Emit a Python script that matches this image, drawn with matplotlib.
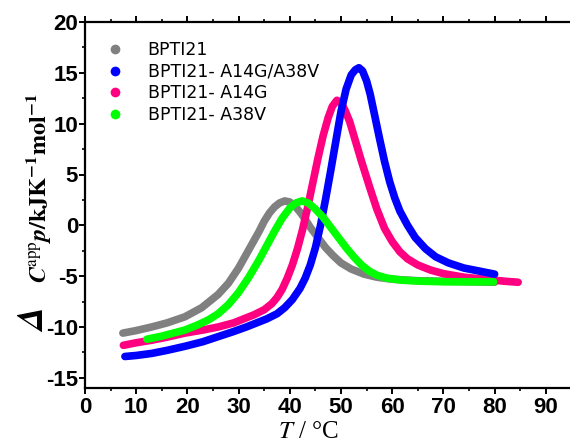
import numpy as np
import matplotlib
matplotlib.use('Agg')
import matplotlib.pyplot as plt
from matplotlib.lines import Line2D
from matplotlib.ticker import MultipleLocator

plt.rcParams['axes.unicode_minus'] = False
plt.rcParams['mathtext.fontset'] = 'stix'

# BPTI21
grey_T = [7.4, 10, 13, 16, 19.5, 22.8, 26, 28, 30, 32, 34, 35, 36, 37, 38, 39, 40, 41,
          42, 43, 44, 45.5, 47, 48.5, 50, 52, 54.5, 57, 60, 65, 70, 75, 80]
grey_C = [-10.6, -10.35, -10.0, -9.6, -9.0, -8.1, -6.8, -5.7, -4.2, -2.4, -0.6, 0.4, 1.2, 1.8, 2.2, 2.4, 2.3, 1.9,
          1.3, 0.6, -0.2, -1.2, -2.2, -3.0, -3.7, -4.3, -4.8, -5.1, -5.3, -5.45, -5.5, -5.55, -5.6]

# BPTI21-A14G/A38V
blue_T = [7.8, 10, 13, 16, 19.5, 23, 26, 29, 31.5, 33.5, 35.5, 37.5, 39, 40.5, 42, 43, 44, 45,
          46, 47, 48, 49, 50, 51, 52, 52.8, 53.5, 54.2, 55, 55.7, 56.5, 57.5, 58.5, 59.5, 60.5,
          61.5, 63, 64.5, 66.5, 68.5, 71, 74, 77, 80]
blue_C = [-12.9, -12.8, -12.6, -12.3, -11.9, -11.45, -10.95, -10.45, -10.0, -9.6, -9.2, -8.7, -8.1, -7.3, -6.2, -5.2, -3.9, -2.2,
          0.0, 2.6, 5.4, 8.3, 11.2, 13.4, 14.8, 15.3, 15.5, 15.2, 14.2, 12.9, 11.0, 8.6, 6.3, 4.3, 2.7,
          1.4, 0.0, -1.2, -2.3, -3.1, -3.7, -4.2, -4.5, -4.8]

# BPTI21-A14G
pink_T = [7.5, 10, 13, 16, 19.5, 23, 26, 29, 31, 33, 35, 36.5, 37.5, 38.5, 39.5, 40.5, 41.5, 42.5,
          43.5, 44.5, 45.5, 46.5, 47.5, 48.3, 49.2, 50, 50.8, 51.7, 52.7, 54, 55.5, 57, 58.5, 60,
          61.5, 63, 65, 67.5, 70, 74, 78, 82, 84.6]
pink_C = [-11.8, -11.55, -11.3, -11.0, -10.6, -10.3, -10.0, -9.6, -9.2, -8.8, -8.3, -7.7, -7.1, -6.3, -5.2, -3.9, -2.3, -0.4,
          1.8, 4.2, 6.6, 8.8, 10.6, 11.7, 12.3, 12.1, 11.3, 10.2, 8.5, 6.3, 3.9, 1.6, -0.3, -1.6,
          -2.6, -3.3, -3.9, -4.4, -4.75, -5.1, -5.3, -5.5, -5.6]

# BPTI21-A38V
green_T = [12.1, 15, 19.5, 22, 24.1, 26, 28, 30, 32, 34, 35.5, 37, 38.5, 40, 41.2, 42.4, 43.6, 45,
           46.5, 48, 49.5, 51, 52.5, 54, 55.5, 57, 59, 62, 66, 70, 75, 79.8]
green_C = [-11.2, -10.9, -10.3, -9.8, -9.3, -8.7, -7.8, -6.6, -5.1, -3.4, -2.0, -0.6, 0.7, 1.7, 2.2, 2.4, 2.2, 1.6,
           0.8, -0.2, -1.2, -2.2, -3.1, -3.9, -4.5, -4.9, -5.2, -5.4, -5.5, -5.55, -5.55, -5.55]

labels = ['BPTI21', 'BPTI21- A14G/A38V', 'BPTI21- A14G', 'BPTI21- A38V']
colors = ['#808080', '#0000ff', '#ff0080', '#00ff00']

fig = plt.figure(figsize=(5.7, 4.47), dpi=100)
ax = fig.add_axes([85/570, 1-388/447, 485/570, 366/447])

series = [(grey_T, grey_C, colors[0]), (pink_T, pink_C, colors[2]),
          (blue_T, blue_C, colors[1]), (green_T, green_C, colors[3])]
for T, C, c in series:
    ax.plot(T, C, color=c, lw=5.5, solid_capstyle='round', solid_joinstyle='round')

ax.set_xlim(0, 485/5.12)
ax.set_ylim(-16, 20)
ax.xaxis.set_major_locator(MultipleLocator(10))
ax.xaxis.set_minor_locator(MultipleLocator(5))
ax.set_yticks([-15, -10, -5, 0, 5, 10, 15, 20])
ax.yaxis.set_minor_locator(MultipleLocator(2.5))

for s in ['left', 'bottom', 'top']:
    ax.spines[s].set_linewidth(1.6)
ax.spines['right'].set_visible(False)
ax.tick_params(which='major', direction='out', length=4.5, width=1.4, pad=2)
ax.tick_params(which='minor', direction='out', length=2.5, width=1.2)
ax.tick_params(axis='x', which='both', top=True, labeltop=False)
ax.tick_params(axis='y', which='major', pad=0.5)

for lab in ax.get_xticklabels() + ax.get_yticklabels():
    lab.set_fontfamily('Liberation Sans')
    lab.set_fontweight('bold')
    lab.set_fontsize(16)

ax.set_xlabel(r'$\mathit{T}$ / °C', fontfamily='Liberation Serif', fontsize=18)
ax.xaxis.set_label_coords(0.46, -0.09)

# y label: big Delta plus the rest
fig.text(33/570, 1-320/447, r'$\mathbfit{\Delta}$', rotation=90, fontsize=26,
         ha='center', va='center')
fig.text(39/570, 1-188/447, r'$\mathbfit{C}^{\mathrm{app}}\mathbfit{p}\mathbf{/kJK^{-1}mol^{-1}}$',
         rotation=90, fontsize=17.5, ha='center', va='center')

handles = [Line2D([], [], ls='', marker='o', ms=7, mew=0, color=c) for c in colors]
leg = ax.legend(handles, labels, loc='upper left', bbox_to_anchor=(0.0, 0.98), frameon=False,
                prop={'family': 'DejaVu Sans', 'size': 12.5}, handletextpad=0.9, labelspacing=0.2,
                borderaxespad=0.3)

fig.savefig('out.png', dpi=100)
